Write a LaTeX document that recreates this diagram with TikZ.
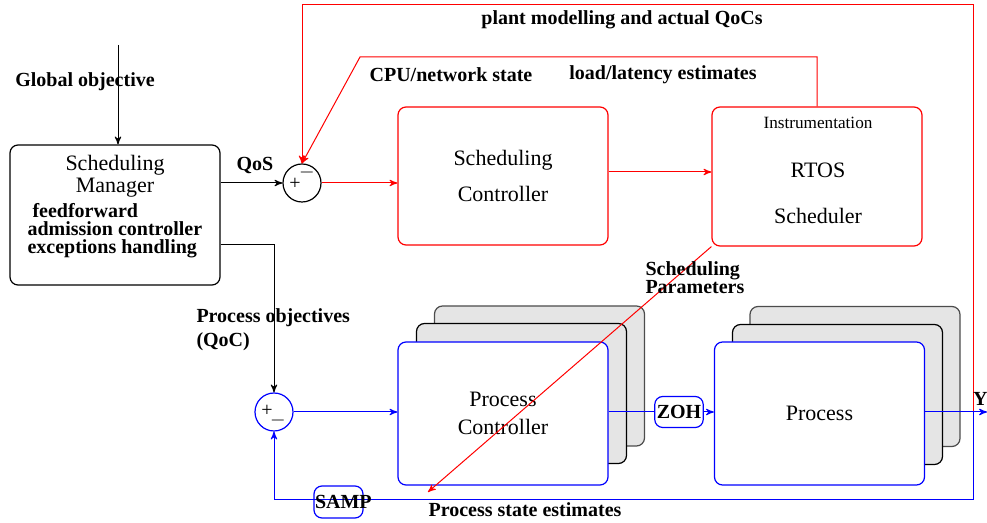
\documentclass[tikz,border=0pt]{standalone}
\usepackage{fontspec}
\setmainfont{Liberation Serif}
\usetikzlibrary{arrows}
\definecolor{loopred}{RGB}{255,0,0}

\begin{document}
\begin{tikzpicture}[x=.5pt,y=-.5pt,>=stealth',line width=.5pt,
    box/.style={draw,rounded corners=4pt,line width=.6pt,minimum width=105pt,inner sep=0pt},
    back/.style={box,fill=black!10,minimum height=70pt},
    sumj/.style={draw,circle,line width=.6pt,minimum size=19pt,inner sep=0pt},
    lbl/.style={font=\fontsize{10}{9}\selectfont\bfseries,inner sep=0pt},
    txt/.style={font=\fontsize{11}{11}\selectfont,align=center}]

  \useasboundingbox (0,0) rectangle (987,523);

  % scheduling manager
  \node[box,minimum height=70pt] (mgr) at (115,215) {};
  \node[txt] (mgrname) at (115,176) {Scheduling\\Manager};
  \node[lbl,align=left,anchor=west] (mgrtasks) at (27,231)
    {\ feedforward\\admission controller\\exceptions handling};
  \coordinate (goal) at (118,45);
  \draw[->] (goal) -- (goal |- mgr.north);
  \node[lbl] (goallbl) at (85,82) {Global objective};

  % red loop
  \node[sumj] (sumq) at (302,183) {};
  \node (sumqp) at (295,184) {+};
  \node (sumqm) at (307,173) {$-$};
  \node[box,draw=loopred,minimum height=69pt,txt] (sc) at (503,176) {Scheduling\\[7pt]Controller};
  \node[box,draw=loopred,minimum height=69.5pt] (rtos) at (817,176.5) {};
  \node[font=\fontsize{8.6}{9}\selectfont] (instr) at (818,123) {Instrumentation};
  \node[txt] (rtosname) at (818,193) {RTOS\\[12pt]Scheduler};

  \draw[->] (mgr.east |- sumq) -- (sumq.west);
  \node[lbl] (qos) at (255,166) {QoS};
  \draw[loopred,->] (sumq.east) -- (sc.west |- sumq.east);
  \coordinate (rt) at (0,172);
  \draw[loopred,->] (sc.east |- rt) -- (rtos.west |- rt);

  \coordinate (knee) at (360,57);
  \draw[loopred,->] (rtos.north) -- (rtos.north |- knee) -- (knee) -- (sumq.north);
  \node[lbl] (cpu) at (451,75) {CPU/network state};
  \node[lbl] (load) at (663,75) {load/latency estimates};

  % process controller stack
  \node[back,draw=black!70] (pcb2) at (539.5,376) {};
  \node[back] (pcb1) at (521.5,393.5) {};
  \node[box,draw=blue,fill=white,minimum height=71.5pt,txt,font=\fontsize{11}{14}\selectfont] (pc) at (503,413.5) {Process\\Controller};

  % process stack
  \node[back,draw=black!70] (procb2) at (855,376.5) {};
  \node[back] (procb1) at (837.5,394.5) {};
  \node[box,draw=blue,fill=white,minimum height=71.5pt,txt] (proc) at (819.5,413.5) {Process};

  % blue loop
  \node[sumj,draw=blue] (sump) at (274,412) {};
  \node (sumpp) at (267,411) {+};
  \node (sumpm) at (278,421) {$-$};
  \coordinate (po) at (0,245);
  \draw[->] (mgr.east |- po) -| (sump.north);
  \node[lbl,anchor=west] (pobj) at (196,318) {Process objectives};
  \node[lbl,anchor=west] (qoc) at (196,342) {(QoC)};

  \draw[blue,->] (sump.east) -- (pc.west |- sump.east);
  \node[box,draw=blue,minimum width=24pt,minimum height=15.5pt,lbl,inner sep=1pt] (zoh) at (679,412) {ZOH};
  \draw[blue] (pc.east |- zoh) -- (zoh.west);
  \draw[blue,->] (zoh.east) -- (proc.west |- zoh.east);

  % plant output and feedback
  \coordinate (yout) at (987,412);
  \coordinate (tap) at (973,412);
  \coordinate (roof) at (0,5);
  \coordinate (fb) at (0,500);
  \coordinate (roofleft) at (302,5);
  \draw[loopred] (tap) -- (tap |- roof) -- (roofleft);
  \draw[loopred,->] (roofleft) -- (sumq.north);
  \node[lbl] (plant) at (622,20) {plant modelling and actual QoCs};
  \draw[blue,->] (proc.east |- yout) -- (yout);
  \node[lbl,anchor=east] (ylbl) at (988,399) {Y};
  \draw[blue,->] (tap) |- (sump |- fb) -- (sump.south);
  \node[box,draw=blue,minimum width=24.5pt,minimum height=16pt,lbl,text width=23.5pt,inner xsep=.5pt,align=left] (samp) at (338.5,502) {SAMP};
  \node[lbl] (pse) at (525,510) {Process state estimates};

  % scheduling parameters
  \coordinate (spend) at (428,492);
  \draw[loopred,->] (rtos.south west) -- (spend);
  \node[lbl,align=left,anchor=west] (spar) at (645,278) {Scheduling\\Parameters};

\end{tikzpicture}
\end{document}
